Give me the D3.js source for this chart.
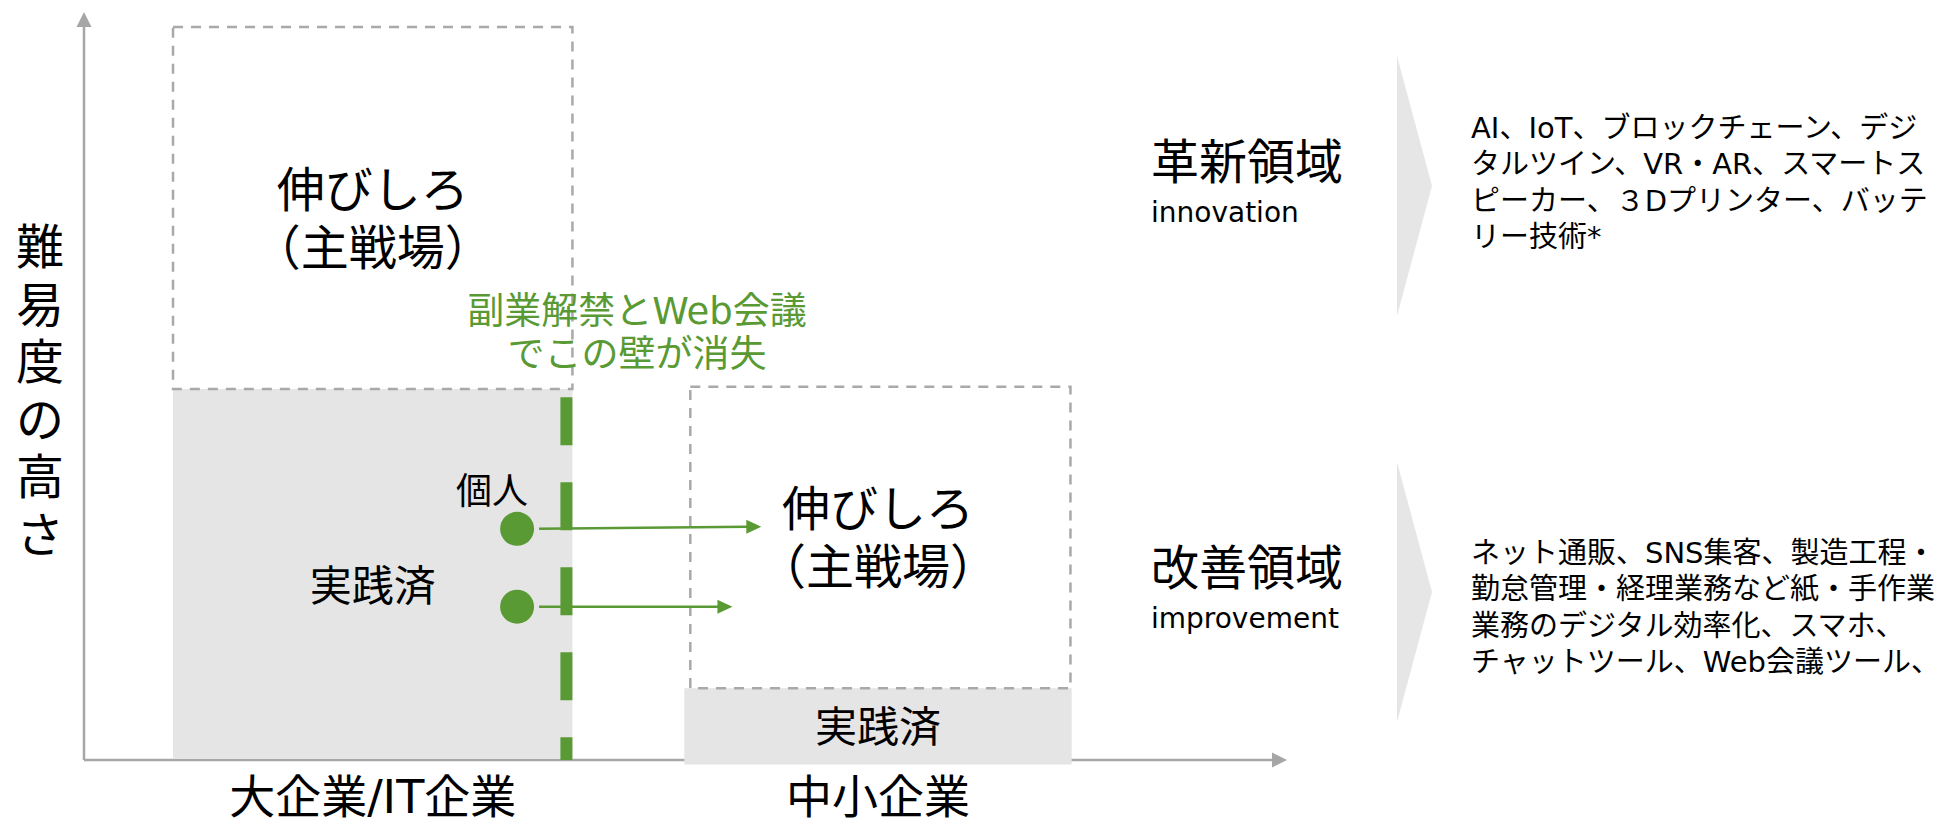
<!DOCTYPE html>
<html>
<head>
<meta charset="utf-8">
<script src="https://cdn.jsdelivr.net/npm/d3@7"></script>
<style>
  body { margin: 0; background: #fff; }
  text { font-family: "DejaVu Sans", "Noto Sans CJK JP", sans-serif; }
</style>
</head>
<body>
<div id="chart-area"></div>
<script>
// groups along the x axis (company size)
const groups = ["大企業/IT企業", "中小企業"]
const groupStart = [7.4, 49.9]
const groupEnd = [40.6, 82.1]
const boxStart = [7.4, 50.4]
const boxEnd = [40.6, 82.0]
// difficulty levels (0-100)
const practicedBase = [0.2, -0.6]
const practicedTop = [49.6, 9.6]
const headroomTop = [98.0, 49.9]
const practicedLabel = ["実践済", "実践済"]
const headroomLabel = [["伸びしろ", "（主戦場）"], ["伸びしろ", "（主戦場）"]]

// the wall that vanished
const wallX = 40.1
const wallTop = 48.5
const wallNote = ["副業解禁とWeb会議", "でこの壁が消失"]
const moverX = 36.0
const moverY = [30.9, 20.5]
const moverTo = [56.3, 53.9]
const moverLabel = "個人"

const yTitle = "難易度の高さ"

// right-hand domains
const domainNames = ["革新領域", "改善領域"]
const domainEn = ["innovation", "improvement"]
const domainText = [
  ["AI、IoT、ブロックチェーン、デジ", "タルツイン、VR・AR、スマートス", "ピーカー、３Dプリンター、バッテ", "リー技術*"],
  ["ネット通販、SNS集客、製造工程・", "勤怠管理・経理業務など紙・手作業", "業務のデジタル効率化、スマホ、", "チャットツール、Web会議ツール、"]
]

const W = 1950, H = 824
const GREEN = "#5a9a35", AXIS = "#a6a6a6", FILL = "#e5e5e5"

const svg = d3.select("#chart-area").append("svg")
  .attr("width", W)
  .attr("height", H)

const x = d3.scaleLinear().domain([0, 100]).range([84, 1287])
const y = d3.scaleLinear().domain([0, 100]).range([760, 12])

// AXES
svg.append("line")
  .attr("x1", x(0)).attr("x2", x(100) - 12)
  .attr("y1", y(0)).attr("y2", y(0))
  .attr("stroke", AXIS).attr("stroke-width", 2.5)
svg.append("path")
  .attr("d", `M${x(100)},${y(0)} L${x(100) - 15},${y(0) - 7.5} L${x(100) - 15},${y(0) + 7.5} Z`)
  .attr("fill", AXIS)
svg.append("line")
  .attr("x1", x(0)).attr("x2", x(0))
  .attr("y1", y(0)).attr("y2", y(100) + 12)
  .attr("stroke", AXIS).attr("stroke-width", 2.5)
svg.append("path")
  .attr("d", `M${x(0)},${y(100)} L${x(0) - 7.5},${y(100) + 15} L${x(0) + 7.5},${y(100) + 15} Z`)
  .attr("fill", AXIS)

// practiced area
svg.selectAll(".practiced")
  .data(groups)
  .enter().append("rect")
  .attr("class", "practiced")
  .attr("x", (d, i) => x(groupStart[i]))
  .attr("width", (d, i) => x(groupEnd[i]) - x(groupStart[i]))
  .attr("y", (d, i) => y(practicedTop[i]))
  .attr("height", (d, i) => y(practicedBase[i]) - y(practicedTop[i]))
  .attr("fill", FILL)

// headroom (dashed)
svg.selectAll(".headroom")
  .data(groups)
  .enter().append("rect")
  .attr("class", "headroom")
  .attr("x", (d, i) => x(boxStart[i]))
  .attr("width", (d, i) => x(boxEnd[i]) - x(boxStart[i]))
  .attr("y", (d, i) => y(headroomTop[i]))
  .attr("height", (d, i) => y(practicedTop[i]) - y(headroomTop[i]))
  .attr("fill", "none")
  .attr("stroke", "#a9a9a9")
  .attr("stroke-width", 2.5)
  .attr("stroke-dasharray", "10 8")

// wall
svg.append("line")
  .attr("x1", x(wallX)).attr("x2", x(wallX))
  .attr("y1", y(wallTop)).attr("y2", y(0))
  .attr("stroke", GREEN).attr("stroke-width", 12)
  .attr("stroke-dasharray", "48 37")

// movers
const R = 17
moverY.forEach((v, i) => {
  const x0 = x(moverX) + R + 5, x1 = x(moverTo[i])
  svg.append("line")
    .attr("x1", x0).attr("x2", x1 - 14)
    .attr("y1", y(v)).attr("y2", y(v) - (i == 0 ? 2 : 0))
    .attr("stroke", GREEN).attr("stroke-width", 2.5)
  svg.append("path")
    .attr("d", `M${x1},${y(v) - (i == 0 ? 2 : 0)} l-15,-7 l0,14 Z`)
    .attr("fill", GREEN)
  svg.append("circle")
    .attr("cx", x(moverX)).attr("cy", y(v)).attr("r", R)
    .attr("fill", GREEN)
})

svg.append("text")
  .attr("x", x(moverX) - 25).attr("y", y(moverY[0]) - 37)
  .attr("text-anchor", "middle").attr("dominant-baseline", "central")
  .attr("font-size", 36).attr("fill", "#000")
  .text(moverLabel)

// TEXTS
groups.forEach((g, i) => {
  const cx = (x(groupStart[i]) + x(groupEnd[i])) / 2
  svg.append("text")
    .attr("x", cx).attr("y", 797)
    .attr("text-anchor", "middle").attr("dominant-baseline", "central")
    .attr("font-size", 46).attr("font-family", "Noto Sans CJK JP")
    .text(g)
  const py = (y(practicedTop[i]) + y(practicedBase[i])) / 2 + (i == 0 ? 13 : 1)
  svg.append("text")
    .attr("x", cx).attr("y", py)
    .attr("text-anchor", "middle").attr("dominant-baseline", "central")
    .attr("font-size", 42)
    .text(practicedLabel[i])
  const hy = (y(headroomTop[i]) + y(practicedTop[i])) / 2
  headroomLabel[i].forEach((t, j) => {
    svg.append("text")
      .attr("x", cx).attr("y", hy + (j == 0 ? -18 : 40) + (i == 1 ? -10 : 0))
      .attr("text-anchor", "middle").attr("dominant-baseline", "central")
      .attr("font-size", 48).attr("font-family", "Noto Sans CJK JP")
      .text(t)
  })
})

wallNote.forEach((t, j) => {
  svg.append("text")
    .attr("x", 637).attr("y", 311 + j * 43)
    .attr("text-anchor", "middle").attr("dominant-baseline", "central")
    .attr("font-size", 37).attr("fill", GREEN)
    .attr("font-family", "Noto Sans CJK JP")
    .text(t)
})

// y title, stacked
yTitle.split("").forEach((c, j) => {
  svg.append("text")
    .attr("x", 40).attr("y", 247 + j * 57.6)
    .attr("text-anchor", "middle").attr("dominant-baseline", "central")
    .attr("font-size", 48).attr("font-family", "Noto Sans CJK JP")
    .text(c)
})

// domains + chevrons
const domainY = [186, 592]
domainNames.forEach((d, i) => {
  const cy = domainY[i]
  svg.append("path")
    .attr("d", `M1397,${cy - 130} L1432,${cy} L1397,${cy + 130} Z`)
    .attr("fill", "#e6e6e6")
  svg.append("text")
    .attr("x", 1151).attr("y", cy - 24)
    .attr("dominant-baseline", "central")
    .attr("font-size", 48).attr("font-family", "Noto Sans CJK JP")
    .text(d)
  svg.append("text")
    .attr("x", 1151).attr("y", cy + 36)
    .attr("font-size", 28)
    .text(domainEn[i])
  domainText[i].forEach((t, j) => {
    svg.append("text")
      .attr("x", 1471).attr("y", cy - 58 + j * 36.3 + (i == 1 ? 19 : 0))
      .attr("dominant-baseline", "central")
      .attr("font-size", 29)
      .text(t)
  })
})
</script>
</body>
</html>
